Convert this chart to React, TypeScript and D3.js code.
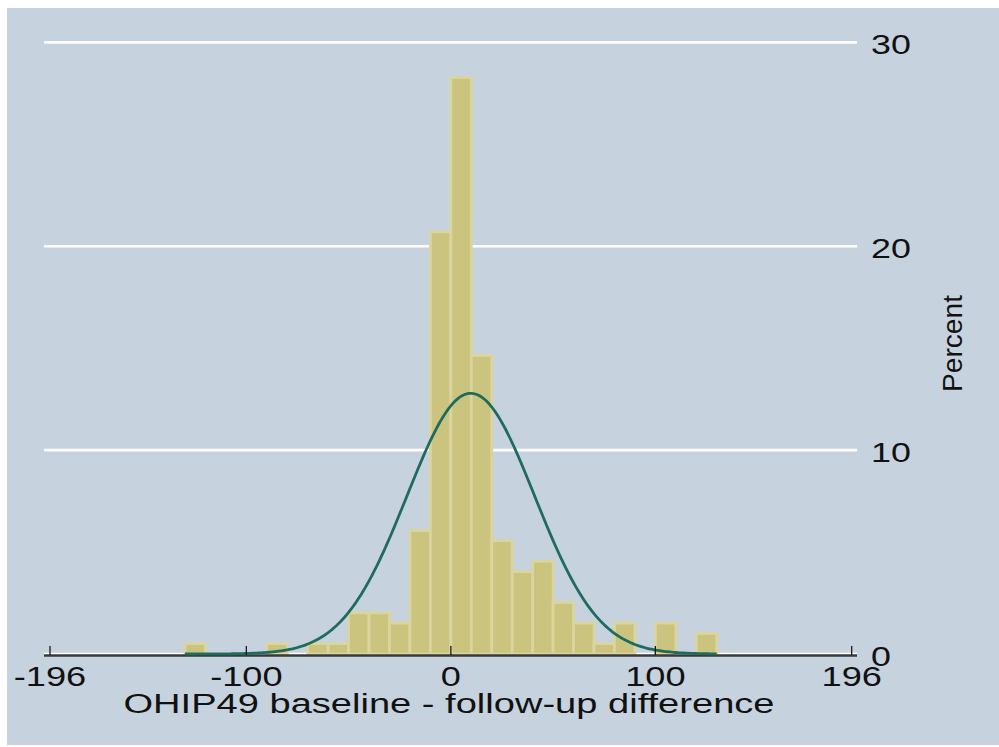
import React from "react";
import * as d3 from "d3";

// Histogram bins (lower edges, width 10) and percent of observations (N = 198)
const binStarts = [-130, -120, -110, -100, -90, -80, -70, -60, -50, -40, -30, -20, -10, 0, 10, 20, 30, 40, 50, 60, 70, 80, 90, 100, 110, 120];
const binWidth = 10;
const percents = [0.51, 0, 0, 0, 0.51, 0, 0.51, 0.51, 2.02, 2.02, 1.52, 6.06, 20.71, 28.28, 14.65, 5.56, 4.04, 4.55, 2.53, 1.52, 0.51, 1.52, 0, 1.52, 0, 1.01];

// Normal density overlay parameters
const normalMean = 9.75;
const normalSd = 31.2;
const dataMin = -130;
const dataMax = 130;

const xTicks = [-196, -100, 0, 100, 196];
const yTicks = [0, 10, 20, 30];
const xTitle = "OHIP49 baseline - follow-up difference";
const yTitle = "Percent";

const FONT = "'Liberation Sans', Arial, Helvetica, sans-serif";

export default function App() {
  const W = 999;
  const H = 747;
  const x = d3.scaleLinear().domain([-196, 196]).range([50, 851.7]);
  const y = d3.scaleLinear().domain([0, 30]).range([654, 42.4]);

  const gridX0 = 44;
  const gridX1 = 857;

  const curvePts = d3.range(dataMin, dataMax + 0.001, 1).map((v) => {
    const z = (v - normalMean) / normalSd;
    const pdf = Math.exp(-0.5 * z * z) / (normalSd * Math.sqrt(2 * Math.PI));
    return [v, pdf * binWidth * 100] as [number, number];
  });
  const line = d3
    .line<[number, number]>()
    .x((d) => x(d[0]))
    .y((d) => y(d[1]))
    .curve(d3.curveLinear);

  return (
    <svg
      width={W}
      height={H}
      style={{ position: "absolute", left: 0, top: 0, display: "block" }}
    >
      <rect x={0} y={0} width={W} height={H} fill="#ffffff" />
      <rect x={7} y={8} width={W - 7} height={737} fill="#c6d3df" />

      {/* grid lines */}
      {yTicks.map((t) => (
        <line
          key={"g" + t}
          x1={gridX0}
          x2={gridX1}
          y1={y(t)}
          y2={y(t)}
          stroke="#ffffff"
          strokeWidth={2.6}
        />
      ))}

      {/* bars */}
      {binStarts.map((b, i) =>
        percents[i] > 0 ? (
          <rect
            key={"b" + i}
            x={x(b)}
            y={y(percents[i])}
            width={x(b + binWidth) - x(b)}
            height={y(0) - y(percents[i])}
            fill="#cbc47f"
            stroke="#dad59e"
            strokeWidth={2.8}
          />
        ) : null
      )}

      {/* x axis line */}
      <line x1={gridX0} x2={gridX1} y1={655.5} y2={655.5} stroke="#3a3a3a" strokeWidth={2.3} />

      {/* normal curve */}
      <path
        d={line(curvePts) || ""}
        fill="none"
        stroke="#1f6b5e"
        strokeWidth={2.8}
        strokeLinejoin="round"
      />

      {/* x ticks */}
      {xTicks.map((t) => (
        <line key={"xt" + t} x1={x(t)} x2={x(t)} y1={646} y2={655} stroke="#1a1a1a" strokeWidth={1.3} />
      ))}

      {/* x tick labels */}
      {xTicks.map((t) => (
        <text
          key={"xl" + t}
          transform={`translate(${x(t)},686) scale(1.34,1)`}
          textAnchor="middle"
          fontFamily={FONT}
          fontSize={27}
          fill="#111"
        >
          {String(t)}
        </text>
      ))}

      {/* x title */}
      <text
        transform={`translate(449,712.5) scale(1.41,1)`}
        textAnchor="middle"
        fontFamily={FONT}
        fontSize={27}
        fill="#111"
      >
        {xTitle}
      </text>

      {/* y tick labels (right side) */}
      {yTicks.map((t) => (
        <text
          key={"yl" + t}
          transform={`translate(871,${y(t) + 11.5}) scale(1.33,1)`}
          textAnchor="start"
          fontFamily={FONT}
          fontSize={27}
          fill="#111"
        >
          {String(t)}
        </text>
      ))}

      {/* y title */}
      <text
        transform={`translate(962,343.5) rotate(-90)`}
        textAnchor="middle"
        fontFamily={FONT}
        fontSize={27}
        textLength={97}
        lengthAdjust="spacingAndGlyphs"
        fill="#111"
      >
        {yTitle}
      </text>
    </svg>
  );
}
